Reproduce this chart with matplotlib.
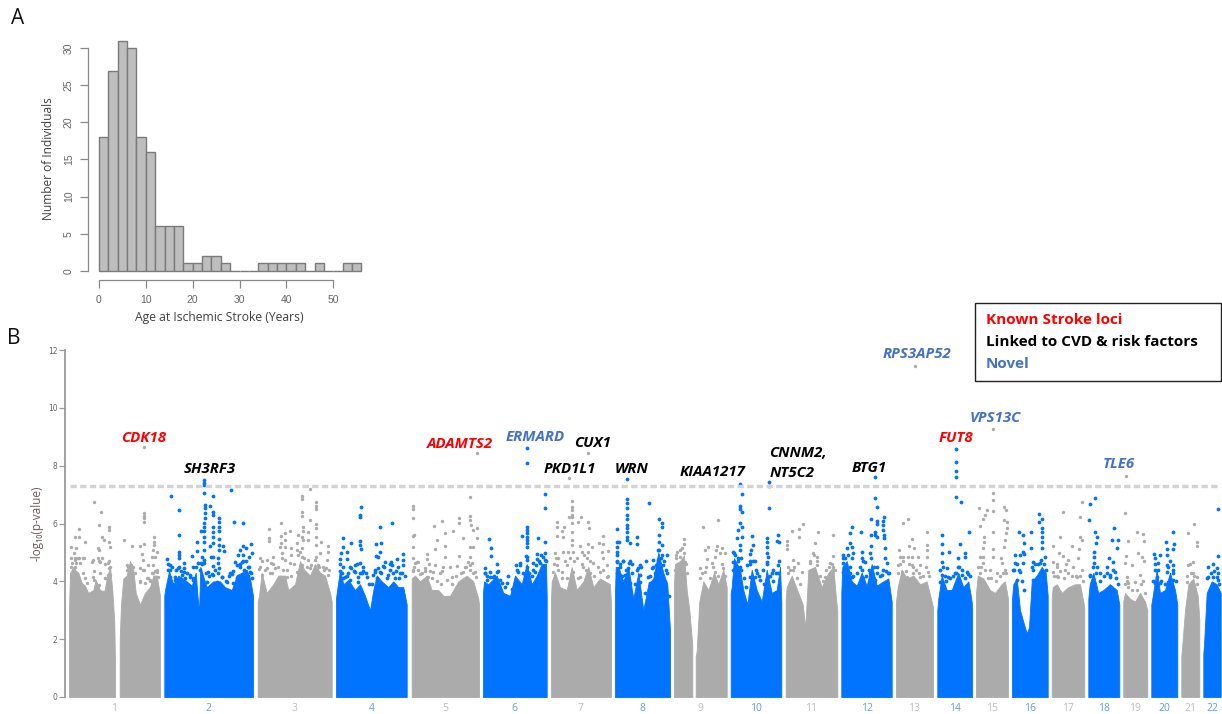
import matplotlib
matplotlib.use("Agg")
import matplotlib.pyplot as plt
from matplotlib.patches import Rectangle

W, H = 1222, 714

# ---------- Panel A data ----------
hist_edges = list(range(0, 58, 2))
hist_counts = [18, 27, 31, 30, 18, 16, 6, 6, 6, 1, 1, 2, 2, 1, 0, 0, 0, 1, 1, 1, 1, 1, 0, 1, 0, 0, 1, 1]

# ---------- Panel B data ----------
chrom_labels = [str(i) for i in range(1, 23)]
chrom_start = [69, 164.3, 257.7, 336, 411.7, 483, 551, 615, 674, 730.7, 785.7, 841.3, 896, 937.3, 976, 1012, 1051.7, 1088.3, 1123.3, 1151.3, 1181.3, 1203.3]
chrom_end = [160, 253, 331.7, 406.7, 479, 546.7, 611, 670, 726.7, 781.3, 837.3, 892, 933, 972, 1008, 1047.7, 1084.3, 1119.3, 1147.3, 1177.3, 1199.3, 1220.7]
threshold = 7.3

# upper edge of the solid cloud: (position, -log10 p)
env1a = [(69,3.0),(70,4.3),(73.3,4.45),(78.3,4.3),(81.7,3.95),(85,3.85),(88.3,3.6),(93.3,3.7),(95.7,4.05),(100,3.7),(104.3,3.65),(106.7,4.1),(110,4.5),(112.3,3.7),(114.3,2.6),(115,1.2)]
env1b = [(119.7,2.0),(121,3.2),(123.3,4.1),(126.7,4.2),(130,4.7),(133.3,4.4),(135.7,3.6),(140,3.2),(145,3.6),(150,3.8),(153.3,4.2),(156.7,4.2),(160,3.5)]
env2 = [(164.3,3.5),(165,3.7),(169,4.35),(173.3,3.9),(178.3,4.2),(185,4.05),(191.7,3.85),(195.7,4.3),(197.7,3.4),(199,2.9),(200.3,4.5),(206.7,3.8),(213.3,4.0),(220,4.0),(225,3.8),(231.7,3.7),(236.7,4.2),(241.7,4.3),(246.7,4.4),(250,4.1),(253,3.5)]
env3 = [(257.7,3.3),(259,3.5),(261.7,4.3),(266.7,3.6),(273.3,3.9),(278.3,4.2),(285,4.2),(288.3,3.7),(295,3.9),(300,4.7),(304.3,4.4),(310,4.2),(315,4.6),(320,4.3),(325,4.2),(330,3.6),(331.7,3.3)]
env4 = [(336,3.4),(336.7,3.6),(340,4.4),(343.3,3.9),(348.3,4.05),(355,3.7),(360,3.9),(365,3.5),(370,3.0),(373.3,3.7),(376.7,4.2),(381.7,4.0),(388.3,3.8),(393.3,4.0),(398.3,3.8),(403.3,3.8),(406.7,3.2)]
env5 = [(411.7,4.1),(415,4.2),(420,4.0),(426.7,4.2),(431.7,3.7),(438.3,3.7),(443.3,3.5),(450,3.5),(458.3,4.0),(466.7,4.2),(473.3,4.0),(478.3,3.4),(479,3.2)]
env6 = [(483,3.6),(484,4.0),(488.3,3.9),(496.7,4.2),(503.3,3.6),(510,3.5),(515,4.2),(521.7,3.9),(526.7,4.6),(531.7,3.9),(536.7,4.2),(541.7,4.6),(546,4.6),(546.7,3.5)]
env7 = [(551,3.4),(551.7,4.0),(555,4.3),(560,3.8),(566.7,3.7),(571.7,4.5),(576.7,3.7),(583.3,4.0),(588.3,4.5),(593.3,3.8),(600,4.1),(605,4.0),(610,3.9),(611,3.2)]
env8 = [(615,3.6),(615.7,4.5),(618.3,4.5),(623.3,4.0),(628.3,4.5),(633.3,3.4),(638.3,4.3),(643.3,3.0),(648.3,3.9),(653.3,4.1),(658.3,5.0),(663.3,4.3),(667.3,3.9),(670,2.3)]
env9a = [(674,3.9),(675,4.6),(680,4.7),(684,4.9),(686.7,3.7),(689.3,3.0),(692.3,1.8)]
env9b = [(695.7,1.4),(696.7,1.6),(699.3,3.3),(703.3,4.0),(708.3,3.7),(714,4.3),(718.3,3.9),(723.3,4.4),(726.7,3.8)]
env10 = [(730.7,3.6),(731.7,3.8),(734,4.8),(740,4.4),(743.3,3.7),(747.3,3.2),(751.7,4.4),(756.7,3.7),(761.7,3.3),(766.7,4.4),(771.7,3.6),(776.7,3.7),(780,4.5),(781.3,3.3)]
env11 = [(785.7,3.4),(786.7,3.8),(791.7,4.2),(798.3,3.6),(802.7,3.2),(805.3,2.4),(808.3,4.4),(815,4.5),(821.7,3.8),(828.3,4.3),(833.3,4.5),(836,3.4),(837.3,3.0)]
env12 = [(841.3,3.6),(842.3,4.5),(846.7,4.7),(851.7,4.0),(856.7,3.85),(861.7,4.3),(866.7,3.85),(871.7,4.6),(876.7,3.85),(883.3,4.0),(888.3,4.1),(891.7,3.3)]
env13 = [(896,3.3),(897.7,3.8),(901.7,4.4),(906.7,4.1),(913.3,4.2),(920,3.9),(926.7,4.0),(931.7,3.3),(933,3.1)]
env14 = [(937.3,3.0),(938.3,3.4),(941.7,4.2),(946.7,3.7),(951.7,3.7),(958.3,4.3),(963.3,3.8),(968.3,4.0),(971.7,3.3),(972,3.0)]
env15 = [(976,3.6),(977.7,4.2),(983.3,4.1),(990,3.7),(995,3.6),(1001.7,3.9),(1005,4.0),(1008,3.4)]
env16 = [(1012,3.4),(1013.3,3.9),(1016.7,4.1),(1020,3.0),(1023.3,2.6),(1026.7,2.2),(1029,2.4),(1031.7,4.0),(1036.7,4.2),(1041.7,4.5),(1045.7,4.3),(1047.7,3.5)]
env17 = [(1051.7,3.4),(1052.7,3.8),(1056.7,3.9),(1061.7,3.6),(1068.3,3.8),(1075,3.9),(1080,3.9),(1083.3,3.3),(1084.3,3.1)]
env18 = [(1088.3,3.4),(1089.7,3.9),(1093.3,4.3),(1098.3,3.6),(1103.3,3.7),(1110,3.9),(1116.7,3.7),(1119.3,3.2)]
env19 = [(1123.3,3.3),(1125,3.6),(1130,3.4),(1135,3.3),(1140,3.6),(1145,3.3),(1147.3,3.0)]
env20 = [(1151.3,3.2),(1152.3,3.4),(1156.7,4.4),(1160,3.6),(1165,3.7),(1170,4.3),(1175,3.7),(1177.3,3.2)]
env21 = [(1181.3,1.4),(1182.7,2.0),(1185,3.0),(1188.3,3.9),(1193.3,4.1),(1197.7,3.5),(1199.3,2.7)]
env22 = [(1203.3,1.5),(1204,1.8),(1206.7,3.6),(1211.7,4.0),(1216.7,3.9),(1220.7,3.6)]

# individual variants above the cloud
hits1 = [(94.3,6.75),(101.3,6.41),(98.7,5.95),(78.7,5.81),(109.3,5.89),(109.3,5.77),(75,5.54),(78.7,5.54),(101.7,5.52),(104,5.43),(85,5.37),(109.3,5.36),(71.3,5.18),(76,5.14),(98.3,5.14),(110,5.2),(74,4.97),(99.3,5.08),(75.3,4.81),(70.7,4.8),(79.3,4.81),(84.3,4.82),(93.3,4.74),(101.7,4.81),(98.7,4.71),(109.3,4.71),(70.7,4.51),(76,4.62),(74,4.45),(105,4.6),(109.3,4.45),(94.3,4.37),(100,4.3),(83.3,4.28),(71.3,4.16),(76,4.1),(110,4.22),(105.3,4.1),(94,4.05),(86.7,3.93),(98.7,3.87),
         (144,8.63),(143.7,6.37),(143.7,6.26),(143.7,6.18),(143.7,6.06),(124,5.43),(131.7,5.22),(154.3,5.52),(154.3,5.37),(154.3,5.26),(144,5.29),(140,5.22),(153.3,5.08),(156.7,5.03),(141.7,4.95),(151.7,4.85),(155,4.85),(143.3,4.74),(126.7,4.56),(130.7,4.45),(140,4.45),(144.3,4.39),(156.7,4.33),(153.3,4.28),(158.3,4.16),(146.7,4.1),(140,3.99),(150,4.05),
         (75,4.73),(78.3,4.8),(71.7,4.62),(75,4.51),(80,4.62),(73.3,4.39),(93.3,4.16),(91.7,4.68),(98.3,4.8),(100,4.68),(108.3,4.62),(110,4.51),(108.3,4.22),(105,4.1),(85,4.1),(83.3,4.8),
         (126.7,4.4),(128,4.5),(131,4.55),(133,4.5),(135,4.3),(140,4.0),(145,3.95),(148,4.1),(152,4.3),(155,4.35),(157,4.4),(150,4.0),(153,4.55),(148,4.55),(143,4.4)]
hits2 = [(204.3,7.5),(204.3,7.41),(204.3,7.32),(204.3,7.07),(171.3,6.95),(212.7,6.96),(231.3,7.16),(178.7,6.46),(204.5,6.64),(204.5,6.52),(204.5,6.37),(204.5,6.18),(210,6.6),(212.7,6.41),(213.3,6.29),(219,6.2),(219,6.06),(234,6.04),(243.3,6.02),(204.3,6.03),(204.3,5.89),(201,5.75),(204.3,5.75),(212.7,5.89),(212.7,5.72),(219,5.89),(219,5.74),(178.7,5.61),(204.3,5.54),(212.7,5.54),(219,5.45),(197.3,5.35),(204.3,5.36),(212.7,5.31),(210.3,5.22),(219,5.26),(223.3,5.22),(250.7,5.28),(243.3,5.22),(178.7,5.03),(178.7,4.91),(178.7,4.8),(196.7,5.05),(204.3,5.08),(219,5.08),(224,5.06),(240,5.08),(246,5.14),(251.7,4.99),(166.7,4.77),(191.7,4.89),(201.7,4.83),(204.3,4.74),(210.7,4.83),(213.3,4.83),(218.3,4.8),(238.3,4.91),(243.3,4.91),(249.3,4.85),(184.3,4.62),(170,4.56),(201,4.62),(204,4.62),(218.3,4.62),(235,4.68),(241.7,4.68),(193.3,4.48),(213.3,4.53),(219.3,4.45),(231.7,4.25),(240,4.51),(248.3,4.51),(168.3,4.39),(178.3,4.45),(184,4.33),(200,4.39),(208.3,4.33),(230,4.28),(245,4.37),(250,4.33),(181.7,4.22),(170,4.16),(190,4.22),(213.3,4.22),(221.7,4.14),(236.7,4.1),(251.7,4.1),(175,4.05),(185,4.1),(193.3,4.05),(206.7,3.99),(216.7,3.99),(226.7,3.99),(233.3,3.93),(241.7,4.05),
         (168,4.6),(170,4.4),(172,4.5),(176,4.4),(179,4.5),(181,4.35),(184,4.45),(187,4.3),(190,4.15),(193,4.1),(196,4.5),(198,4.65),(202,4.6),(206,4.3),(209,4.2),(212,4.25),(215,4.4),(218,4.3),(222,4.15),(226,4.0),(229,4.2),(233,4.35),(237,4.55),(240,4.6),(243,4.7),(246,4.7),(249,4.5),(251,4.3),(238,4.2),(244,4.4),(248,4.2),(175,4.15)]
hits3 = [(310,7.18),(302.3,6.96),(302.3,6.85),(315.7,6.73),(315.7,6.6),(315.7,6.49),(302.3,6.41),(302.3,6.27),(310,6.12),(281,6.01),(315.7,5.98),(302.7,5.89),(269.3,5.81),(315.7,5.83),(290,5.74),(302.7,5.74),(308.3,5.72),(285,5.66),(280.7,5.57),(269.3,5.49),(269.3,5.41),(298.3,5.6),(301.7,5.54),(315.7,5.54),(285,5.43),(280.7,5.31),(302.7,5.43),(308.3,5.43),(321,5.37),(297.3,5.31),(315.7,5.26),(328.3,5.22),(280,5.18),(285,5.2),(290.7,5.14),(297.3,5.08),(301.7,5.14),(320,4.99),(281.7,4.99),(327.7,5.03),(290.7,4.91),(301.7,4.85),(260,4.82),(273.3,4.85),(266.7,4.74),(285,4.74),(308.3,4.74),(315,4.74),(327.3,4.74),(270.7,4.62),(290,4.62),(301.7,4.56),(318.3,4.56),(259.3,4.41),(266.7,4.45),(275,4.45),(283.3,4.39),(296.7,4.33),(310,4.45),(324,4.39),(261.7,4.22),(271.7,4.28),(286.7,4.16),(301.7,4.16),(315,4.28),(320,4.16),(328.3,4.22),
         (260,4.5),(262,4.7),(265,4.4),(270,4.3),(273,4.6),(278,4.5),(282,4.8),(287,4.4),(291,4.2),(294,4.6),(298,4.9),(300,5.0),(304,4.8),(307,4.5),(311,4.55),(316,4.85),(319,4.5),(323,4.5),(326,4.45),(329,4.4),(313,4.3),(300,4.4)]
hits4 = [(361,6.58),(360,6.29),(360,6.24),(391.7,6.02),(380,5.89),(342.7,5.5),(350.7,5.34),(360,5.41),(360,5.26),(376,5.29),(380.7,5.31),(342.7,5.2),(361,5.12),(346.7,5.03),(340.7,4.97),(380,5.03),(376,4.88),(378.3,4.85),(340,4.77),(346.7,4.77),(403.3,4.95),(396.7,4.76),(390.7,4.68),(385,4.68),(403.3,4.74),(360,4.62),(355,4.56),(343.3,4.51),(383.3,4.53),(391.7,4.56),(398.3,4.48),(403.3,4.56),(350,4.48),(363.3,4.51),(340,4.37),(355,4.33),(375,4.33),(380,4.33),(390,4.39),(346.7,4.18),(361.7,4.28),(366.7,4.16),(373.3,4.22),(388.3,4.22),(400,4.28),(350,4.05),(358.3,3.99),(376.7,4.05),(395,4.1),(343.3,4.1),
         (340,4.6),(342,4.3),(345,4.15),(348,4.3),(351,4.45),(354,4.35),(357,4.6),(360,4.3),(363,4.35),(366,4.3),(369,3.9),(372,3.9),(375,4.4),(378,4.45),(381,4.3),(384,4.5),(387,4.1),(390,4.6),(393,4.3),(396,4.35),(399,4.1),(402,4.3),(405,4.2),(358,4.15),(377,4.1)]
hits5 = [(476.7,8.45),(412.7,6.62),(412.7,6.49),(412.7,6.2),(413.3,5.58),(412.7,5.18),(413.3,4.82),(417.3,4.68),(413.3,4.39),(470,6.9),(470,6.26),(470,6.12),(459.3,6.2),(459.3,6.01),(441.7,6.1),(434,5.93),(453.3,5.74),(445,5.68),(470.7,5.95),(473.3,5.78),(476.7,5.83),(414,5.6),(476.7,5.49),(462.7,5.49),(436.7,5.43),(445,5.23),(435,5.12),(470,5.2),(473.3,5.2),(426.7,4.95),(459.3,4.89),(445,4.85),(470,4.85),(426.7,4.76),(418.3,4.68),(415,4.62),(468.3,4.68),(471.7,4.62),(435,4.56),(443.3,4.51),(456.7,4.53),(450,4.51),(465,4.51),(470,4.39),(425,4.45),(433.3,4.33),(463.3,4.33),(475,4.33),(413.3,4.37),(421.7,4.28),(440,4.28),(451.7,4.16),(428.3,4.16),
         (414,4.5),(420,4.25),(425,4.35),(429,4.6),(432,4.1),(437,4.0),(441,3.9),(447,4.05),(452,3.9),(456,4.2),(461,4.3),(466,4.5),(470,4.55),(473,4.3),(476,4.15),(418,4.4),(442,4.35),(430,4.35)]
hits6 = [(527.3,8.62),(527.3,8.08),(545.3,7.02),(545.3,6.54),(527.3,5.89),(527.3,5.77),(522.3,5.58),(527.3,5.66),(527.3,5.54),(527.3,5.43),(527.3,5.31),(527.3,5.2),(538,5.5),(545.3,5.37),(489,5.46),(491,5.14),(491,4.89),(525.7,4.89),(536.7,4.95),(540.7,4.91),(545,4.97),(527.3,4.74),(536.7,4.76),(545,4.74),(497.3,4.6),(520,4.62),(516,4.56),(526.7,4.51),(485,4.47),(533.3,4.62),(540,4.62),(490,4.33),(497.3,4.33),(508.3,4.2),(518.3,4.33),(543.3,4.39),(485,4.28),(493.3,4.16),(500,4.05),(506.7,3.93),(486.7,4.05),(525,4.22),(535,4.33),
         (485,4.3),(487,4.2),(490,4.15),(494,4.2),(498,4.35),(502,3.95),(505,3.8),(512,3.75),(517,4.4),(520,4.55),(523,4.3),(527,4.85),(529,4.3),(533,4.4),(536,4.55),(539,4.7),(543,4.85),(546,4.7),(541,4.3),(532,4.2)]
hits7 = [(569,7.59),(588.3,8.45),(572.3,6.79),(572.3,6.58),(572.3,6.47),(572.3,6.29),(572.3,6.21),(569,6.21),(581,6.21),(578.3,6.06),(556.7,6.06),(588.3,6.06),(556.7,5.89),(564,5.89),(589.3,5.83),(572.3,6.01),(572.3,5.72),(561.7,5.75),(556.7,5.58),(563.3,5.52),(603.3,5.58),(572.3,5.43),(572.3,5.26),(588.3,5.29),(599.3,5.31),(603.3,5.29),(580,5.22),(591.7,5.2),(555,4.99),(563.3,5.03),(568.3,5.03),(573.3,5.03),(581.7,5.03),(588.3,5.03),(601.7,5.03),(608.3,5.05),(558.3,4.8),(576.7,4.8),(586.7,4.8),(603.3,4.8),(556.7,4.56),(566.7,4.56),(583.3,4.51),(593.3,4.62),(606.7,4.56),(553.3,4.33),(561.7,4.33),(573.3,4.33),(590,4.28),(600,4.33),(580,4.16),(606.7,4.16),
         (554,4.6),(558,4.4),(562,4.1),(565,4.7),(570,4.8),(574,4.7),(578,4.1),(582,4.6),(586,4.4),(590,4.7),(594,4.2),(598,4.5),(603,4.4),(608,4.2),(567,4.1),(584,4.9),(556,4.8)]
hits8 = [(627.3,7.53),(627.3,6.84),(627.3,6.7),(649,6.7),(627.3,6.52),(627.3,6.29),(627.3,6.16),(627.3,5.95),(627.3,5.83),(627.3,5.72),(627.3,5.54),(627.3,5.43),(630,5.31),(616.7,5.8),(658.7,6.14),(661.7,6.01),(662.3,5.87),(637.3,5.54),(637.3,5.29),(659,5.6),(617.3,5.37),(619.3,5.37),(616.7,5.2),(659,5.37),(661.7,5.26),(616.7,5.03),(658.3,5.08),(662.3,4.91),(667.3,4.91),(616.7,4.91),(653.3,4.74),(646,4.7),(616.7,4.68),(623.3,4.71),(630,4.71),(658.3,4.74),(640,4.56),(620,4.51),(628.3,4.45),(636.7,4.39),(651.7,4.45),(663.3,4.56),(616.7,4.28),(625,4.22),(631.7,4.28),(640,4.22),(648.3,4.16),(656.7,4.33),(666.7,4.28),(620,3.99),(630,3.93),(640,3.99),(650,3.93),(665,3.99),
         (617,4.7),(620,4.6),(623,4.7),(626,4.4),(629,4.65),(632,4.6),(635,3.9),(638,4.45),(641,4.5),(645,3.6),(650,4.2),(653,4.5),(656,4.55),(659,5.1),(661,4.8),(664,4.7),(666,4.4),(669,3.5),(622,4.2),(627,4.1),(655,4.3)]
hits9 = [(684,5.45),(684,5.29),(681.7,5.14),(684,4.97),(680,4.85),(676,4.8),(685,4.68),(681.7,4.51),(686.7,4.28),(675,4.39),
         (718.3,6.12),(702.7,5.89),(708.3,5.2),(717.3,5.23),(705,5.08),(721.7,5.14),(716,5.08),(720,4.97),(725,4.97),(706.7,4.76),(715,4.85),(700,4.47),(705,4.33),(711.7,4.62),(723.3,4.45),(715,4.33),
         (677,5.0),(679,4.6),(683,4.4),(686,4.6),(676,4.9),(680,5.1),(702,4.3),(706,4.5),(710,4.1),(713,4.5),(718,4.2),(722,4.6),(725,4.2),(700,4.1)]
hits10 = [(740,7.35),(769,7.45),(769,7.3),(742,7.02),(768.7,6.54),(740,6.6),(740,6.49),(741.7,6.41),(740,6.01),(741.7,5.89),(738.3,5.78),(778.3,5.6),(776.7,5.41),(779,5.37),(751.7,5.57),(737.3,5.49),(742,5.54),(766.7,5.49),(766.7,5.37),(740,5.26),(753.3,5.26),(766.7,5.2),(750.7,5.08),(766.7,4.97),(734,4.97),(740,5.08),(750,4.93),(768.3,4.85),(738.3,4.8),(733.3,4.68),(750,4.7),(755,4.7),(767.3,4.68),(778.3,4.56),(746.7,4.56),(740,4.51),(763.3,4.39),(773.3,4.39),(733.3,4.39),(756.7,4.28),(771.7,4.28),(778.3,4.28),(750,4.16),(760,4.05),(768.3,4.16),
          (733,5.0),(735,4.9),(738,4.7),(741,4.8),(744,4.1),(746,3.8),(750,4.6),(753,4.7),(756,4.4),(759,4.2),(764,3.9),(767,4.6),(770,4.2),(773,4.0),(776,4.3),(779,4.7),(737,4.5),(741,4.4),(755,4.15)]
hits11 = [(802.7,5.97),(799.3,5.81),(792.3,5.75),(818.3,5.72),(799,5.52),(786.7,5.41),(786.7,5.26),(815,5.31),(786.7,5.11),(813.3,4.97),(817.3,4.85),(793.3,4.74),(798.3,4.62),(788.3,4.51),(810,4.62),(816.7,4.56),(793.3,4.39),(813.3,4.39),(801.7,4.33),(832.7,5.6),(832.7,4.89),(830,4.62),(833.3,4.51),(825,4.16),
          (788,4.3),(790,4.4),(794,4.5),(797,4.1),(800,3.9),(810,4.7),(814,4.9),(817,4.7),(820,4.2),(823,4.0),(829,4.5),(832,4.6),(835,4.4),(826,4.4)]
hits12 = [(875.3,7.61),(875.3,6.87),(877.3,6.56),(883.7,6.24),(870.7,6.16),(877.3,6.1),(877.3,5.98),(883.3,6.1),(852.3,5.87),(861,5.72),(883.3,5.95),(883.3,5.78),(875,5.72),(850,5.66),(870.7,5.6),(875,5.6),(877.3,5.54),(884,5.6),(884,5.49),(850,5.34),(846.7,5.14),(870.7,5.23),(852.3,5.2),(885,5.14),(861.7,5.03),(870,4.97),(852.7,4.97),(843.3,4.8),(851.7,4.8),(861.7,4.8),(885,4.8),(886.7,4.62),(843.3,4.62),(850,4.51),(865,4.68),(876.7,4.51),(861.7,4.39),(888.3,4.28),(843.3,4.33),(870,4.28),(881.7,4.22),(851.7,4.16),(863.3,4.1),(875,4.05),
          (843,4.9),(845,4.8),(848,4.9),(850,4.3),(853,4.2),(857,4.3),(860,4.5),(863,4.7),(866,4.2),(869,4.4),(871,4.8),(874,4.5),(877,4.3),(880,4.2),(883,4.4),(886,4.35),(889,4.3)]
hits13 = [(915,11.44),(908.3,6.14),(903.3,6.03),(926.7,5.69),(912.3,5.45),(899.3,5.08),(909.3,5.23),(914,5.14),(927.3,5.26),(926.7,5.08),(900,4.83),(908.3,4.83),(918.3,4.85),(926.7,4.85),(898.3,4.56),(911.7,4.56),(920,4.56),(901.7,4.33),(913.3,4.28),(928.3,4.33),(906.7,4.16),(920,4.16),
          (898,4.3),(900,4.6),(903,4.7),(906,4.35),(909,4.6),(913,4.5),(916,4.4),(919,4.3),(923,4.2),(926,4.5),(929,4.2),(903,4.85),(912,4.85)]
hits14 = [(955.7,8.59),(955.7,8.14),(955.7,7.83),(955.7,7.6),(955.7,6.93),(961,6.74),(969,5.69),(942.3,5.59),(959.7,5.28),(942.3,5.28),(949,5.03),(942.3,4.97),(965,4.97),(965,4.85),(942.3,4.68),(958.3,4.8),(946.7,4.45),(958.3,4.51),(966.7,4.33),(955,4.28),(941.7,4.22),(948.3,4.16),(961.7,4.22),(940,3.99),
          (940,4.4),(943,4.5),(946,4.0),(950,4.1),(953,4.2),(956,4.3),(959,4.5),(962,4.4),(965,4.1),(968,4.25),(970,4.2),(945,4.2)]
hits15 = [(992.7,9.27),(992.7,7.04),(992.7,6.81),(992.7,6.44),(979,6.52),(986.7,6.47),(1004,6.58),(1005.7,6.47),(985,6.29),(983.3,6.14),(1004,6.12),(980,5.91),(1006.7,6.06),(1006.7,5.83),(992.7,5.69),(1006,5.66),(984,5.52),(1005,5.43),(984,5.37),(1004.3,5.2),(992.7,5.11),(983.3,5.14),(980,4.85),(993.3,4.85),(1001.7,4.62),(983.3,4.62),(990,4.39),(1005,4.39),(980,4.28),(996.7,4.28),
          (978,4.5),(981,4.5),(985,4.4),(988,4.1),(991,4.1),(996,4.0),(1000,4.2),(1003,4.3),(1006,4.3),(983,4.85),(1001,4.8)]
hits16 = [(1019,5.69),(1023.3,5.6),(1030.7,5.69),(1039.3,6.33),(1039.3,6.06),(1041.7,6.16),(1041.7,5.86),(1041.7,5.69),(1041.7,5.54),(1041.7,5.37),(1024,5.31),(1030.7,5.14),(1022.7,5.03),(1042,5.14),(1015,4.91),(1020,4.91),(1024,4.95),(1045,4.85),(1015,4.62),(1023.3,4.62),(1033.3,4.68),(1040,4.62),(1013.3,4.39),(1020,4.33),(1033.3,4.39),(1041.7,4.33),(1016.7,4.05),(1033.3,4.05),
          (1014,4.4),(1017,4.6),(1019,4.4),(1022,4.0),(1024,3.7),(1032,4.5),(1035,4.6),(1038,4.6),(1041,4.75),(1044,4.6),(1046,4.4)]
hits17 = [(1062.7,6.41),(1081.7,6.75),(1080,6.21),(1060,5.54),(1080,5.54),(1081.7,5.43),(1053.3,5.23),(1071.7,5.23),(1079.3,5.12),(1059.3,4.97),(1063.3,4.88),(1078.3,4.8),(1053.3,4.68),(1068.3,4.74),(1056.7,4.51),(1073.3,4.51),(1053.3,4.33),(1065,4.39),(1081.7,4.39),(1058.3,4.16),(1076.7,4.16),
          (1054,4.2),(1057,4.2),(1060,4.35),(1064,4.1),(1068,4.3),(1072,4.2),(1076,4.2),(1080,4.2),(1083,4.0),(1057,4.6),(1066,4.6)]
hits18 = [(1095,6.87),(1090.3,6.67),(1089.3,6.12),(1113.7,5.83),(1095,5.72),(1096.7,5.54),(1111.7,5.43),(1117.7,5.43),(1096,5.31),(1116.7,5.14),(1094,5.03),(1094,4.85),(1109.3,4.8),(1094,4.62),(1113.3,4.68),(1096.7,4.51),(1106.7,4.51),(1090,4.22),(1115,4.33),(1100,4.28),(1110,4.22),
          (1090,4.2),(1093,4.5),(1096,4.3),(1100,4.0),(1104,4.2),(1107,4.3),(1110,4.15),(1113,4.4),(1116,4.1),(1118,3.9)]
hits19 = [(1125.7,7.65),(1125.3,6.35),(1136.7,5.69),(1142.7,5.63),(1127.7,5.39),(1144.3,5.41),(1138.3,4.99),(1126,4.89),(1141.7,4.85),(1125,4.62),(1131.7,4.56),(1144,4.71),(1140,4.22),(1126.7,4.16),(1135,3.99),(1128.3,3.93),
          (1125,3.9),(1128,3.8),(1132,3.7),(1137,3.7),(1141,3.9),(1145,3.6),(1127,4.0),(1143,4.0)]
hits20 = [(1173,5.72),(1166.3,5.35),(1174,5.28),(1166.7,5.11),(1173.3,5.11),(1154,4.93),(1160,4.91),(1166.7,4.91),(1155,4.8),(1158.3,4.62),(1166.7,4.56),(1173.3,4.56),(1155,4.39),(1166.7,4.33),(1173.3,4.28),(1156.7,4.16),(1160,3.93),(1168.3,3.99),(1173.3,4.05),(1155,3.93),
          (1153,4.0),(1155,4.6),(1158,4.4),(1161,4.0),(1165,3.9),(1168,4.5),(1170,4.7),(1173,4.4),(1176,4.0)]
hits21 = [(1194,6.0),(1188.3,5.66),(1196.7,5.37),(1196.7,5.22),(1192.7,4.68),(1188.3,4.56),(1193.3,4.28),(1196.7,4.16),(1186.7,3.99),
          (1187,4.2),(1191,4.3),(1194,4.2),(1197,3.9),(1190,4.6)]
hits22 = [(1218.3,6.51),(1217.7,4.88),(1213.3,4.59),(1208.3,4.51),(1216.7,4.45),(1218.3,4.28),(1206.7,4.1),(1213.3,4.16),(1218.3,4.05),
          (1208,4.15),(1211,4.3),(1214,4.35),(1217,4.15),(1219,3.9)]

gray_env = [env1a, env1b, env3, env5, env7, env9a, env9b, env11, env13, env15, env17, env19, env21]
blue_env = [env2, env4, env6, env8, env10, env12, env14, env16, env18, env20, env22]
gray_hits = hits1 + hits3 + hits5 + hits7 + hits9 + hits11 + hits13 + hits15 + hits17 + hits19 + hits21
blue_hits = hits2 + hits4 + hits6 + hits8 + hits10 + hits12 + hits14 + hits16 + hits18 + hits20 + hits22

gene_labels = ["CDK18", "SH3RF3", "ADAMTS2", "ERMARD", "CUX1", "PKD1L1", "WRN", "KIAA1217", "CNNM2,", "NT5C2", "BTG1", "RPS3AP52", "VPS13C", "FUT8", "TLE6"]
gene_kinds = ["known", "linked", "known", "novel", "linked", "linked", "linked", "linked", "linked", "linked", "linked", "novel", "novel", "known", "novel"]
legend_labels = ["Known Stroke loci", "Linked to CVD & risk factors", "Novel"]
legend_kinds = ["known", "linked", "novel"]

# ---------- Style / layout ----------
GRAY, BLUE = "#ABABAB", "#0073FF"
KIND_COLOR = {"known": "#FF0000", "linked": "#000000", "novel": "#4472C4"}
gene_xy = [(144,438),(209.5,469),(460,444),(535,437),(593,443),(569.3,469),(631.7,469),(712.7,472),(798,453),(791.7,473),(869,468),(917.3,354.5),(995,417.5),(956,438),(1119.3,464)]
legend_y = [320, 342, 364]
SANS = "Open Sans"

fig = plt.figure(figsize=(W / 100, H / 100), dpi=100, facecolor="white")

def px_axes(l, t, r, b):
    return fig.add_axes([l / W, 1 - b / H, (r - l) / W, (b - t) / H])

def ftext(x, y, s, **kw):
    kw.setdefault("ha", "center")
    kw.setdefault("va", "center")
    return fig.text(x / W, 1 - y / H, s, **kw)

# ---------- Panel A ----------
xpx = 234.3 / 50   # px per year
ypx = 222.4 / 30   # px per count
axA = px_axes(88.3, 30, 370, 280)
axA.set_xlim((88.3 - 99) / xpx, (370 - 99) / xpx)
axA.set_ylim(-(280 - 270.7) / ypx, (270.7 - 30) / ypx)
axA.patch.set_alpha(0)
axA.bar(hist_edges[:-1], hist_counts, width=2, align="edge", color="#BEBEBE", edgecolor="#7A7A7A", linewidth=1.0)
for s in ("top", "right"):
    axA.spines[s].set_visible(False)
for s in ("left", "bottom"):
    axA.spines[s].set_color("#8A8A8A")
    axA.spines[s].set_linewidth(0.9)
axA.spines["left"].set_bounds(0, 30)
axA.spines["bottom"].set_bounds(0, 50)
axA.set_xticks(range(0, 51, 10))
axA.set_yticks(range(0, 31, 5))
axA.tick_params(axis="both", length=5.5, width=0.9, color="#8A8A8A", labelcolor="#666666", labelsize=7.5)
axA.tick_params(axis="x", pad=5)
axA.tick_params(axis="y", pad=5)
for t in axA.get_yticklabels():
    t.set_rotation(90)
    t.set_va("center")
for t in axA.get_xticklabels() + axA.get_yticklabels():
    t.set_family("Liberation Sans")
ftext(49, 159, "Number of Individuals", rotation=90, fontsize=8.6, color="#404040", family=SANS)
ftext(219, 318, "Age at Ischemic Stroke (Years)", fontsize=8.7, color="#404040", family=SANS)

# ---------- Panel B ----------
axB = px_axes(65, 350, 1222, 697)
axB.set_xlim(65, 1222)
axB.set_ylim(0, 12)
axB.patch.set_alpha(0)
for env_list, color in ((gray_env, GRAY), (blue_env, BLUE)):
    for env in env_list:
        xs, ys = zip(*env)
        axB.fill_between(xs, 0, ys, color=color, linewidth=0.6, zorder=2)
for hits, color, size in ((gray_hits, GRAY, 6.0), (blue_hits, BLUE, 7.5)):
    xs, ys = zip(*hits)
    axB.scatter(xs, ys, s=size, color=color, linewidths=0, zorder=3)
axB.plot([70, 1220], [threshold, threshold], color="#D3D3D3", lw=2.4, dashes=(1.9, 1.0), zorder=4)
for s in ("top", "right", "bottom"):
    axB.spines[s].set_visible(False)
axB.spines["left"].set_color("#9A9A9A")
axB.spines["left"].set_linewidth(1.3)
axB.set_yticks(range(0, 13, 2))
axB.tick_params(axis="y", length=4, width=0.9, color="#9A9A9A", labelcolor="#666666", labelsize=5.5, pad=1.5)
mids = [(a + b) / 2 for a, b in zip(chrom_start, chrom_end)]
axB.set_xticks(mids)
axB.set_xticklabels(chrom_labels)
axB.tick_params(axis="x", length=0, labelsize=7.5, pad=4.5)
for i, t in enumerate(axB.get_xticklabels()):
    t.set_color("#BDBDBD" if i % 2 == 0 else "#5E9DF0")
    t.set_family(SANS)
ftext(37, 523, "-log\u2081\u2080(p-value)", rotation=90, fontsize=8.5, color="#6B5B5B", family=[SANS, "DejaVu Sans"])

for name, kind, (x, y) in zip(gene_labels, gene_kinds, gene_xy):
    ftext(x, y, name, fontsize=10.8, fontweight="bold", fontstyle="italic", color=KIND_COLOR[kind], family=SANS, zorder=6)

fig.add_artist(Rectangle((975.3 / W, 1 - 381 / H), (1221 - 975.3) / W, (381 - 303.3) / H, transform=fig.transFigure, facecolor="white", edgecolor="#222222", linewidth=1.0))
for label, kind, y in zip(legend_labels, legend_kinds, legend_y):
    ftext(986, y, label, ha="left", fontsize=11, fontweight="bold", color=KIND_COLOR[kind], family=SANS, zorder=6)

ftext(18, 19, "A", fontsize=15, color="#111111", family=SANS)
ftext(14, 338, "B", fontsize=15, color="#111111", family=SANS)

fig.savefig("out.png", dpi=100, facecolor="white")
